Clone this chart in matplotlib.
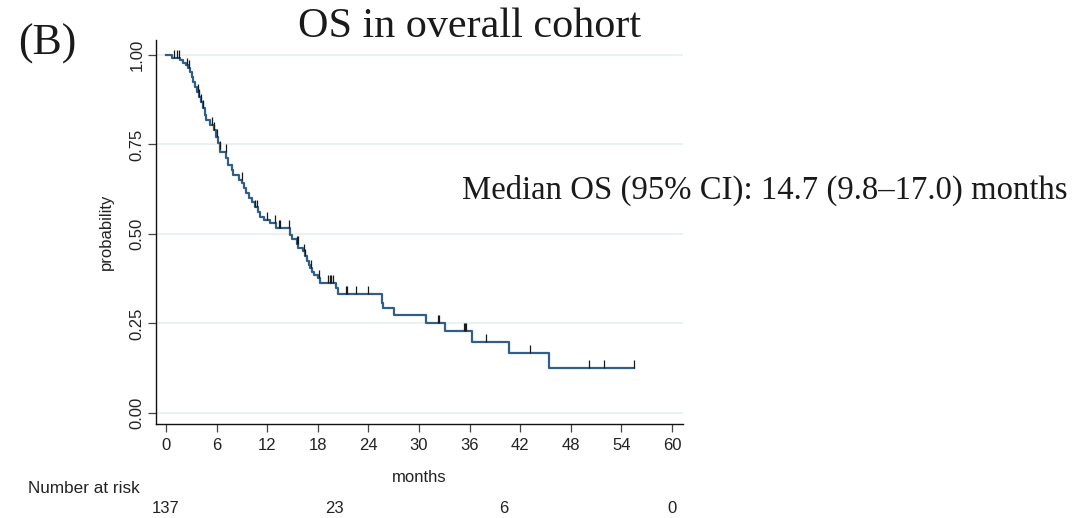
import numpy as np
import matplotlib
matplotlib.use("Agg")
import matplotlib.pyplot as plt
from matplotlib.transforms import blended_transform_factory

# Kaplan-Meier estimate: event times (months) and survival just after each event
event_months = [0.75, 1.66, 2.05, 2.33, 2.57, 2.85, 3.04, 3.24, 3.44, 3.72,
                3.95, 4.15, 4.43, 4.62, 4.70, 5.22, 5.69, 5.93, 6.13, 6.40,
                6.45, 7.15, 7.40, 7.79, 8.00, 8.60, 9.00, 9.30, 9.50, 9.80,
                10.2, 10.5, 10.9, 11.2, 11.6, 12.3, 13.0, 14.7, 14.9, 15.5,
                15.7, 16.3, 16.5, 16.7, 17.0, 17.1, 17.3, 17.5, 18.0, 18.3,
                20.2, 20.45, 25.6, 25.75, 27.0, 30.85, 33.1, 36.3, 40.7, 45.4]
survival = [0.992, 0.985, 0.978, 0.971, 0.964, 0.953, 0.939, 0.925, 0.912, 0.898,
            0.884, 0.870, 0.851, 0.832, 0.818, 0.804, 0.790, 0.772, 0.754, 0.737,
            0.730, 0.711, 0.693, 0.679, 0.665, 0.651, 0.642, 0.628, 0.614, 0.600,
            0.588, 0.574, 0.560, 0.548, 0.539, 0.530, 0.516, 0.497, 0.485, 0.472,
            0.460, 0.451, 0.437, 0.423, 0.413, 0.404, 0.395, 0.385, 0.376, 0.364,
            0.348, 0.332, 0.306, 0.292, 0.274, 0.252, 0.230, 0.199, 0.168, 0.125]
last_follow_up = 55.5

# Censored observations (months)
censor_months = [0.99, 1.26, 1.54, 2.45, 2.76, 3.75, 3.95, 4.15, 4.43, 5.42,
                 5.69, 6.0, 6.4, 7.11, 8.97, 10.55, 10.75, 11.94, 12.93, 13.45,
                 13.55, 14.59, 15.5, 15.65, 16.4, 16.5, 17.16, 18.14, 19.17, 19.4,
                 19.6, 19.76, 21.3, 21.5, 22.53, 23.99, 32.2, 32.35, 35.3, 35.45,
                 35.6, 37.95, 43.2, 50.1, 51.9, 55.5]

risk_months = [0, 20, 40, 60]
n_at_risk = [137, 23, 6, 0]
x_ticks = list(range(0, 61, 6))
y_ticks = [0.00, 0.25, 0.50, 0.75, 1.00]

title = "OS in overall cohort"
panel = "(B)"
median_note = "Median OS (95% CI): 14.7 (9.8\u201317.0) months"

SANS = ["Liberation Sans", "DejaVu Sans"]
SERIF = ["Liberation Serif", "DejaVu Serif"]
plt.rcParams["font.family"] = SANS

LINE = "#305f88"
GRID = "#e8f0f2"
TXT = "#222222"

W, H = 1087, 518
fig = plt.figure(figsize=(W / 100, H / 100), dpi=100)
fig.patch.set_facecolor("white")

ax = fig.add_axes([155.7 / W, 1 - 424.3 / H, (683 - 155.7) / W, (424.3 - 40) / H])
ax.set_xlim(-1.22, 61.3)
ax.set_ylim(-0.032, 1.042)

for y in y_ticks:
    ax.axhline(y, color=GRID, lw=1.3, zorder=0)

t_full = [0.0] + event_months + [last_follow_up]
s_full = [1.0] + survival + [survival[-1]]
ax.step(t_full, s_full, where="post", color=LINE, lw=1.6, zorder=3)

# censoring ticks sit on the curve and point upward
te = np.array([0.0] + event_months)
se = np.array([1.0] + survival)
cm = np.array(censor_months)
cs = se[np.searchsorted(te, cm, side="right") - 1]
ax.vlines(cm, cs, cs + 0.022, color="#1a1a1a", lw=0.9, zorder=4)

ax.set_xticks(x_ticks)
ax.set_yticks(y_ticks)
ax.set_yticklabels([f"{v:.2f}" for v in y_ticks], rotation=90, va="center")
ax.tick_params(axis="both", direction="out", length=5.8, width=0.9,
               color="#444444", labelsize=12, labelcolor=TXT)
ax.tick_params(axis="x", pad=4)
ax.tick_params(axis="y", pad=2)

for side in ("top", "right"):
    ax.spines[side].set_visible(False)
for side in ("left", "bottom"):
    ax.spines[side].set_color("#111111")
    ax.spines[side].set_linewidth(1.0)

fig.text(419 / W, 1 - 482 / H, "months", ha="center", va="baseline",
         fontsize=12, color=TXT)
fig.text(106 / W, 1 - 232 / H, "probability", ha="center", va="center",
         rotation=90, fontsize=12, color=TXT)

fig.text(469 / W, 1 - 37 / H, title, ha="center", va="baseline",
         fontsize=30.3, family=SERIF, color="#1a1a1a")
fig.text(18 / W, 1 - 55 / H, panel, ha="left", va="baseline",
         fontsize=31.5, family=SERIF, color="#1a1a1a")
fig.text(462 / W, 1 - 199 / H, median_note, ha="left", va="baseline",
         fontsize=23.6, family=SERIF, color="#1a1a1a")

# number-at-risk table below the axis
fig.text(28 / W, 1 - 493 / H, "Number at risk", ha="left", va="baseline",
         fontsize=12.3, color=TXT)
tr = blended_transform_factory(ax.transData, fig.transFigure)
for m, n in zip(risk_months, n_at_risk):
    ax.text(m, 1 - 513 / H, str(n), transform=tr, ha="center", va="baseline",
            fontsize=12, color=TXT, clip_on=False)

fig.savefig("out.png", dpi=100, facecolor="white")
